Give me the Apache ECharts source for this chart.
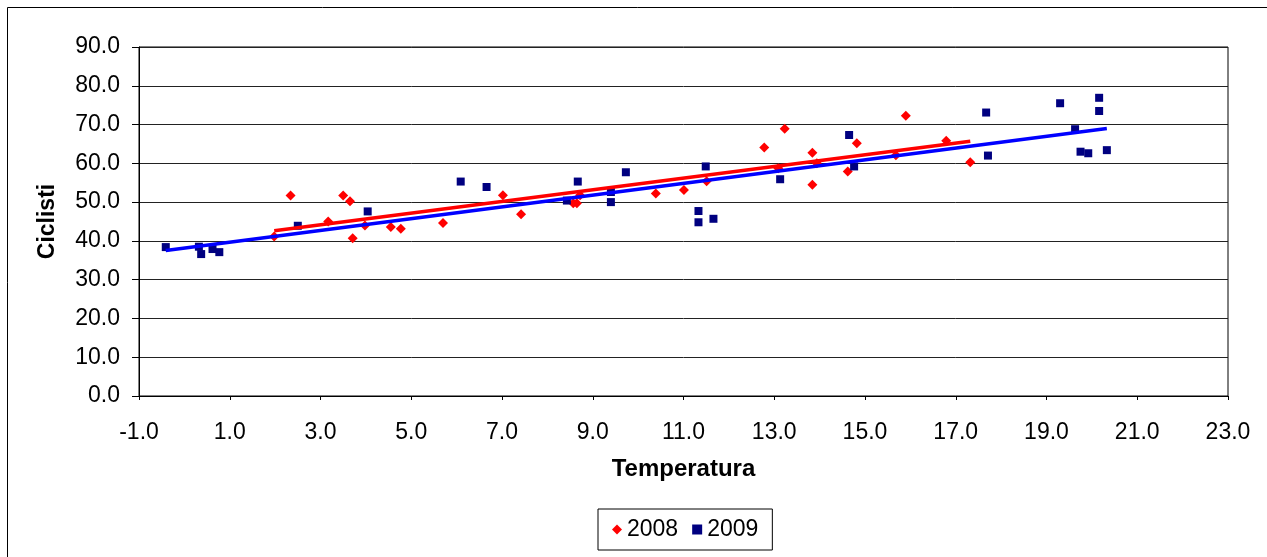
<!DOCTYPE html>
<html>
<head>
<meta charset="utf-8">
<script src="https://cdn.jsdelivr.net/npm/echarts@6/dist/echarts.min.js"></script>
<style>
html,body{margin:0;padding:0;background:#fff;}
#chart{width:1267px;height:557px;}
</style>
</head>
<body>
<div id="chart"></div>
<script>
// 2008 observations (Temperatura, Ciclisti)
var x2008 = [1.98, 2.34, 3.17, 3.50, 3.65, 3.71, 3.98, 4.55, 4.77, 5.70, 7.02, 7.42, 8.57, 8.65, 8.72, 10.39, 11.01, 11.51, 12.78, 13.23, 13.09, 13.84, 13.84, 13.94, 14.62, 14.82, 15.68, 15.90, 16.79, 17.32];
var y2008 = [41.1, 51.7, 45.0, 51.7, 50.2, 40.7, 44.0, 43.6, 43.1, 44.6, 51.8, 46.9, 49.7, 49.7, 51.8, 52.2, 53.1, 55.4, 64.1, 68.9, 58.7, 62.7, 54.5, 60.0, 57.9, 65.2, 62.1, 72.3, 65.8, 60.3];
// 2009 observations
var x2009 = [-0.41, 0.32, 0.37, 0.62, 0.77, 2.50, 4.04, 6.09, 6.66, 8.43, 8.67, 9.40, 9.40, 9.73, 11.33, 11.33, 11.66, 11.49, 13.13, 14.65, 14.76, 17.67, 17.71, 19.30, 19.63, 19.75, 19.92, 20.16, 20.16, 20.33];
var y2009 = [38.4, 38.5, 36.6, 37.9, 37.1, 43.9, 47.6, 55.3, 53.9, 50.4, 55.3, 50.0, 52.6, 57.7, 47.7, 44.8, 45.7, 59.2, 55.9, 67.3, 59.2, 73.1, 62.0, 75.5, 68.8, 63.0, 62.6, 76.9, 73.5, 63.4];
// trend line end points
var trendX2008 = [1.98, 17.32];
var trendY2008 = [42.6, 65.7];
var trendX2009 = [-0.41, 20.33];
var trendY2009 = [37.5, 69.0];
var seriesNames = ['2008', '2009'];
var xTitle = 'Temperatura';
var yTitle = 'Ciclisti';

function pairs(xs, ys){ return xs.map(function(v,i){ return [v, ys[i]]; }); }

var FONT = '"Liberation Sans", Arial, sans-serif';
var chart = echarts.init(document.getElementById('chart'), null, {renderer:'canvas'});
chart.setOption({
  animation: false,
  backgroundColor: '#fff',
  textStyle: {fontFamily: FONT, color: '#000'},
  graphic: [{
    type: 'rect', silent: true, z: -1,
    shape: {x: 7.5, y: 7.5, width: 1300, height: 600},
    style: {fill: 'none', stroke: '#000', lineWidth: 1}
  }],
  grid: {left: 139, right: 39, top: 47, bottom: 161, show: true, borderColor: '#000', borderWidth: 1, backgroundColor: 'transparent'},
  legend: {
    data: [{name: seriesNames[0], icon: 'diamond'}, {name: seriesNames[1], icon: 'rect'}],
    left: 598, top: 509,
    itemWidth: 10, itemHeight: 10, itemGap: 14,
    padding: [9, 14, 9, 14],
    borderColor: '#000', borderWidth: 1,
    textStyle: {fontFamily: FONT, fontSize: 23, color: '#000'}
  },
  xAxis: {
    type: 'value', min: -1, max: 23, interval: 2,
    name: xTitle, nameLocation: 'middle', nameGap: 61,
    nameTextStyle: {fontFamily: FONT, fontSize: 24, fontWeight: 'bold', color: '#000'},
    axisLine: {show: true, onZero: false, lineStyle: {color: '#000', width: 1}},
    axisTick: {show: true, length: 4, lineStyle: {color: '#000'}},
    axisLabel: {fontFamily: FONT, fontSize: 23, color: '#000', margin: 25, formatter: function(v){ return v.toFixed(1); }},
    splitLine: {show: false}
  },
  yAxis: {
    type: 'value', min: 0, max: 90, interval: 10,
    name: yTitle, nameLocation: 'middle', nameGap: 80, nameRotate: 90,
    nameTextStyle: {fontFamily: FONT, fontSize: 23, fontWeight: 'bold', color: '#000'},
    axisLine: {show: true, onZero: false, lineStyle: {color: '#000', width: 1}},
    axisTick: {show: true, length: 7, lineStyle: {color: '#000'}},
    axisLabel: {fontFamily: FONT, fontSize: 23, color: '#000', margin: 19, formatter: function(v){ return v.toFixed(1); }},
    splitLine: {show: true, lineStyle: {color: '#222', width: 1}}
  },
  series: [
    {name: seriesNames[0], type: 'scatter', symbol: 'diamond', symbolSize: 10,
     itemStyle: {color: '#FF0000', opacity: 1}, data: pairs(x2008, y2008), z: 2},
    {name: seriesNames[1], type: 'scatter', symbol: 'rect', symbolSize: 8,
     itemStyle: {color: '#000080', opacity: 1}, data: pairs(x2009, y2009), z: 2},
    {name: 'trend2008', type: 'line', showSymbol: false, symbol: 'none', z: 3,
     lineStyle: {color: '#FF0000', width: 3.5}, data: pairs(trendX2008, trendY2008)},
    {name: 'trend2009', type: 'line', showSymbol: false, symbol: 'none', z: 4,
     lineStyle: {color: '#0000FF', width: 3.5}, data: pairs(trendX2009, trendY2009)}
  ]
});
</script>
</body>
</html>
